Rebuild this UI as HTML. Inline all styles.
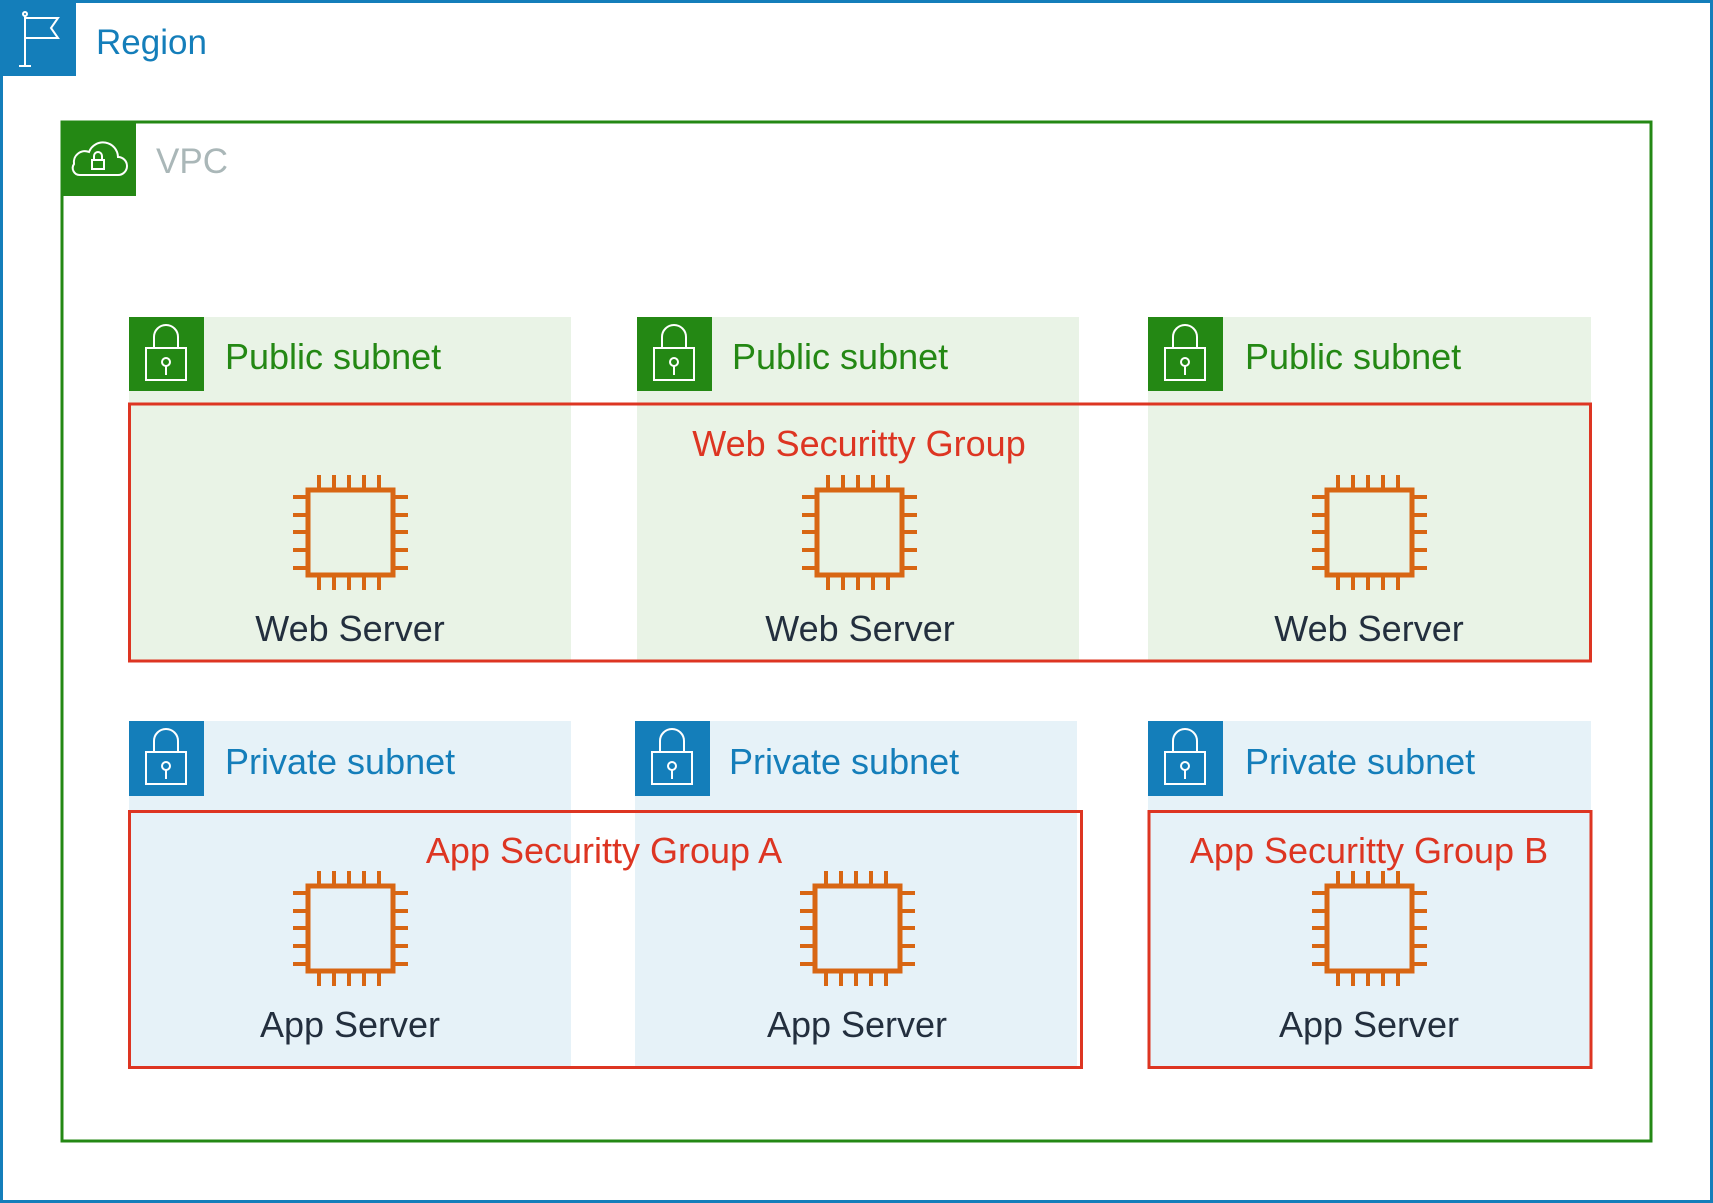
<!DOCTYPE html>
<html><head><meta charset="utf-8"><style>
html,body{margin:0;padding:0;background:#fff;}
svg{display:block;}
text{font-family:"Liberation Sans",Arial,sans-serif;}
</style></head><body>
<svg width="1713" height="1203" viewBox="0 0 1713 1203" xmlns="http://www.w3.org/2000/svg">
<defs>
<g id="chip">
<rect x="15" y="15" width="85" height="85" fill="none" stroke="#D86613" stroke-width="5"/>
<g stroke="#D86613" stroke-width="4">
<path d="M26 0V14M41 0V14M56 0V14M71 0V14M86 0V14"/>
<path d="M26 101V115M41 101V115M56 101V115M71 101V115M86 101V115"/>
<path d="M0 22H14M0 40H14M0 57H14M0 75H14M0 93H14"/>
<path d="M101 22H115M101 40H115M101 57H115M101 75H115M101 93H115"/>
</g>
</g>
<g id="lock" fill="none" stroke="#fff" stroke-width="2">
<rect x="16" y="30" width="40" height="32"/>
<path d="M24 30V19a12 12 0 0 1 24 0V30"/>
<circle cx="36" cy="44" r="4"/>
<path d="M36 48V57"/>
</g>
</defs>

<rect x="1.5" y="1.5" width="1710" height="1200" fill="#fff" stroke="#147EBA" stroke-width="3"/>
<rect x="0" y="0" width="76" height="76" fill="#147EBA"/>
<g fill="none" stroke="#fff" stroke-width="2">
<path d="M25 15V66M19 66H31"/>
<circle cx="25" cy="14" r="2"/>
<path d="M25 18H58L51 28L58 38H25"/>
</g>
<text x="96" y="54" font-size="35" fill="#147EBA">Region</text>

<rect x="62" y="122" width="1589" height="1019" fill="none" stroke="#248814" stroke-width="3"/>
<rect x="61" y="121" width="75" height="75" fill="#248814"/>
<g fill="none" stroke="#fff" stroke-width="2">
<path d="M80 175H118a9 9 0 0 0 0-18a15 15 0 0 0-29-5a11 11 0 0 0-15 12a7 7 0 0 0 6 11z"/>
<rect x="92" y="160" width="12" height="9"/>
<path d="M94 160v-4a4 4 0 0 1 8 0v4"/>
</g>
<text x="156" y="173" font-size="35" fill="#AAB7B8">VPC</text>

<g>
<rect x="129" y="317" width="442" height="344" fill="#E9F3E6"/>
<rect x="637" y="317" width="442" height="344" fill="#E9F3E6"/>
<rect x="1148" y="317" width="443" height="344" fill="#E9F3E6"/>
<rect x="129" y="317" width="75" height="74" fill="#248814"/>
<rect x="637" y="317" width="75" height="74" fill="#248814"/>
<rect x="1148" y="317" width="75" height="74" fill="#248814"/>
<use href="#lock" transform="translate(130,318)"/>
<use href="#lock" transform="translate(638,318)"/>
<use href="#lock" transform="translate(1149,318)"/>
<text x="225" y="369" font-size="36" fill="#248814">Public subnet</text>
<text x="732" y="369" font-size="36" fill="#248814">Public subnet</text>
<text x="1245" y="369" font-size="36" fill="#248814">Public subnet</text>
</g>

<g>
<rect x="129" y="721" width="442" height="347" fill="#E6F2F8"/>
<rect x="635" y="721" width="442" height="347" fill="#E6F2F8"/>
<rect x="1148" y="721" width="443" height="347" fill="#E6F2F8"/>
<rect x="129" y="721" width="75" height="75" fill="#147EBA"/>
<rect x="635" y="721" width="75" height="75" fill="#147EBA"/>
<rect x="1148" y="721" width="75" height="75" fill="#147EBA"/>
<use href="#lock" transform="translate(130,722)"/>
<use href="#lock" transform="translate(636,722)"/>
<use href="#lock" transform="translate(1149,722)"/>
<text x="225" y="774" font-size="36" fill="#147EBA">Private subnet</text>
<text x="729" y="774" font-size="36" fill="#147EBA">Private subnet</text>
<text x="1245" y="774" font-size="36" fill="#147EBA">Private subnet</text>
</g>

<rect x="129.5" y="404" width="1461" height="257" fill="none" stroke="#DD3522" stroke-width="3"/>
<rect x="129.5" y="811.5" width="952" height="256" fill="none" stroke="#DD3522" stroke-width="3"/>
<rect x="1149" y="811.5" width="442" height="256" fill="none" stroke="#DD3522" stroke-width="3"/>
<text x="859" y="456" font-size="36" fill="#DD3522" text-anchor="middle">Web Securitty Group</text>
<text x="604" y="863" font-size="36" fill="#DD3522" text-anchor="middle">App Securitty Group A</text>
<text x="1369" y="863" font-size="36" fill="#DD3522" text-anchor="middle">App Securitty Group B</text>

<use href="#chip" transform="translate(293,475)"/>
<use href="#chip" transform="translate(802,475)"/>
<use href="#chip" transform="translate(1312,475)"/>
<use href="#chip" transform="translate(293,871)"/>
<use href="#chip" transform="translate(800,871)"/>
<use href="#chip" transform="translate(1312,871)"/>

<g font-size="36" fill="#232F3E" text-anchor="middle">
<text x="350" y="641">Web Server</text>
<text x="860" y="641">Web Server</text>
<text x="1369" y="641">Web Server</text>
<text x="350" y="1037">App Server</text>
<text x="857" y="1037">App Server</text>
<text x="1369" y="1037">App Server</text>
</g>
</svg>
</body></html>
